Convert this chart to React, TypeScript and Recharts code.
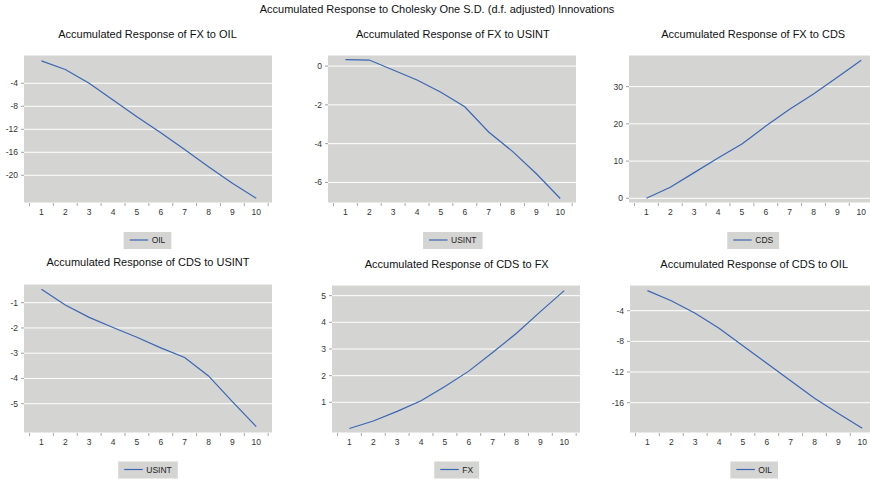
import { LineChart, Line, XAxis, YAxis, CartesianGrid } from "recharts";

const MAIN_TITLE = "Accumulated Response to Cholesky One S.D. (d.f. adjusted) Innovations";

const PERIODS = [1, 2, 3, 4, 5, 6, 7, 8, 9, 10];

// accumulated responses
const FX_TO_OIL = [-0.1, -1.6, -4.0, -6.9, -9.8, -12.6, -15.5, -18.5, -21.4, -24.0];
const FX_TO_USINT = [0.33, 0.31, -0.2, -0.72, -1.35, -2.1, -3.4, -4.4, -5.55, -6.83];
const FX_TO_CDS = [0.0, 2.96, 6.9, 10.8, 14.6, 19.4, 23.9, 28.0, 32.5, 37.1];
const CDS_TO_USINT = [-0.47, -1.09, -1.58, -1.98, -2.37, -2.79, -3.17, -3.9, -4.92, -5.91];
const CDS_TO_FX = [0.02, 0.3, 0.66, 1.06, 1.59, 2.17, 2.87, 3.59, 4.4, 5.19];
const CDS_TO_OIL = [-1.39, -2.7, -4.34, -6.3, -8.56, -10.86, -13.13, -15.43, -17.4, -19.34];

const TICKS_FX_OIL = [-20, -16, -12, -8, -4];
const TICKS_FX_USINT = [-6, -4, -2, 0];
const TICKS_FX_CDS = [0, 10, 20, 30];
const TICKS_CDS_USINT = [-5, -4, -3, -2, -1];
const TICKS_CDS_FX = [1, 2, 3, 4, 5];
const TICKS_CDS_OIL = [-16, -12, -8, -4];

const FONT = "'Liberation Sans', Arial, sans-serif";
const BG = "#d4d5d2";
const LINE = "#3b66b5";
const PLOT_W = 248;
const Y_AXIS_W = 30;
const X_DOMAIN: [number, number] = [0.27, 10.66];

const X_TICKS = [...PERIODS, ...PERIODS.map((p) => p - 0.5), 10.5].sort((a, b) => a - b);

interface PanelDef {
  title: string;
  shock: string;
  values: number[];
  yTicks: number[];
  yDomain: [number, number];
  plotLeft: number;
  plotTop: number;
  plotBottom: number;
  titleX: number;
  titleY: number;
  legendY: number;
}

const PANELS: PanelDef[] = [
  { title: "Accumulated Response of FX to OIL", shock: "OIL", values: FX_TO_OIL, yTicks: TICKS_FX_OIL, yDomain: [-24.82, 0.92], plotLeft: 24, plotTop: 55, plotBottom: 203, titleX: 147.5, titleY: 38, legendY: 232 },
  { title: "Accumulated Response of FX to USINT", shock: "USINT", values: FX_TO_USINT, yTicks: TICKS_FX_USINT, yDomain: [-7.06, 0.57], plotLeft: 328, plotTop: 55, plotBottom: 203, titleX: 452.8, titleY: 38, legendY: 232 },
  { title: "Accumulated Response of FX to CDS", shock: "CDS", values: FX_TO_CDS, yTicks: TICKS_FX_CDS, yDomain: [-1.26, 38.5], plotLeft: 629, plotTop: 55, plotBottom: 203, titleX: 753.2, titleY: 38, legendY: 232 },
  { title: "Accumulated Response of CDS to USINT", shock: "USINT", values: CDS_TO_USINT, yTicks: TICKS_CDS_USINT, yDomain: [-6.16, -0.26], plotLeft: 24, plotTop: 284, plotBottom: 433, titleX: 148, titleY: 265.7, legendY: 461.5 },
  { title: "Accumulated Response of CDS to FX", shock: "FX", values: CDS_TO_FX, yTicks: TICKS_CDS_FX, yDomain: [-0.15, 5.4], plotLeft: 332, plotTop: 285, plotBottom: 433, titleX: 456.7, titleY: 268, legendY: 461.5 },
  { title: "Accumulated Response of CDS to OIL", shock: "OIL", values: CDS_TO_OIL, yTicks: TICKS_CDS_OIL, yDomain: [-19.95, -0.65], plotLeft: 630, plotTop: 285, plotBottom: 433, titleX: 754.2, titleY: 268, legendY: 461.5 },
];

function PeriodTick(props: any) {
  const { x, y, payload } = props;
  const v = payload.value;
  if (Number.isInteger(v)) {
    return (
      <text x={x} y={y + 12} textAnchor="middle" fontSize={8.5} fill="#333" fontFamily={FONT}>
        {v}
      </text>
    );
  }
  return <line x1={x} x2={x} y1={y} y2={y + 3} stroke="#a8a8a8" />;
}

function Panel({ p }: { p: PanelDef }) {
  const data = PERIODS.map((period, i) => ({ period, value: p.values[i] }));
  const top = p.plotTop - 4;
  const height = p.plotBottom - p.plotTop + 4 + 20;
  return (
    <div style={{ position: "absolute", left: p.plotLeft - Y_AXIS_W, top }}>
      <LineChart
        width={Y_AXIS_W + PLOT_W + 4}
        height={height}
        data={data}
        margin={{ top: 4, right: 4, bottom: 0, left: 0 }}
      >
        <CartesianGrid vertical={false} stroke="#ffffff" fill={BG} fillOpacity={1} />
        <XAxis
          dataKey="period"
          type="number"
          domain={X_DOMAIN}
          allowDataOverflow
          ticks={X_TICKS}
          interval={0}
          tick={<PeriodTick />}
          tickLine={false}
          axisLine={false}
          tickSize={0}
          tickMargin={0}
          height={20}
        />
        <YAxis
          type="number"
          domain={p.yDomain}
          allowDataOverflow
          ticks={p.yTicks}
          interval={0}
          width={Y_AXIS_W}
          axisLine={false}
          tickSize={3}
          tickMargin={3}
          tickLine={{ stroke: "#a0a0a0" }}
          tick={{ fontSize: 8.5, fill: "#333", fontFamily: FONT }}
        />
        <Line
          type="linear"
          dataKey="value"
          name={p.shock}
          stroke={LINE}
          strokeWidth={1.2}
          dot={false}
          isAnimationActive={false}
        />
      </LineChart>
    </div>
  );
}

const LEGEND_TEXT_W: Record<string, number> = { OIL: 13.7, CDS: 17.9, FX: 10.9, USINT: 25.5 };

function LegendBox({ p }: { p: PanelDef }) {
  const w = 6 + 18.5 + 3.5 + (LEGEND_TEXT_W[p.shock] ?? 20) + 6;
  const x = p.titleX - w / 2;
  const y = p.legendY;
  return (
    <g>
      <rect x={x} y={y} width={w} height={17} fill={BG} />
      <line x1={x + 6} x2={x + 24.5} y1={y + 8} y2={y + 8} stroke={LINE} strokeWidth={1.2} />
      <text x={x + 28} y={y + 11.3} fontSize={8.5} fill="#222" fontFamily={FONT}>
        {p.shock}
      </text>
    </g>
  );
}

export default function App() {
  return (
    <div
      style={{
        position: "absolute",
        left: 0,
        top: 0,
        width: 870,
        height: 479,
        overflow: "hidden",
        background: "#fff",
        fontFamily: FONT,
      }}
    >
      {PANELS.map((p) => (
        <Panel key={p.title} p={p} />
      ))}
      <svg
        width={870}
        height={479}
        style={{ position: "absolute", left: 0, top: 0, pointerEvents: "none" }}
      >
        <text x={437} y={13} textAnchor="middle" fontSize={11} fill="#111" fontFamily={FONT}>
          {MAIN_TITLE}
        </text>
        {PANELS.map((p) => (
          <text key={p.title} x={p.titleX} y={p.titleY} textAnchor="middle" fontSize={11} fill="#111" fontFamily={FONT}>
            {p.title}
          </text>
        ))}
        {PANELS.map((p) => (
          <LegendBox key={p.title + "-legend"} p={p} />
        ))}
      </svg>
    </div>
  );
}
